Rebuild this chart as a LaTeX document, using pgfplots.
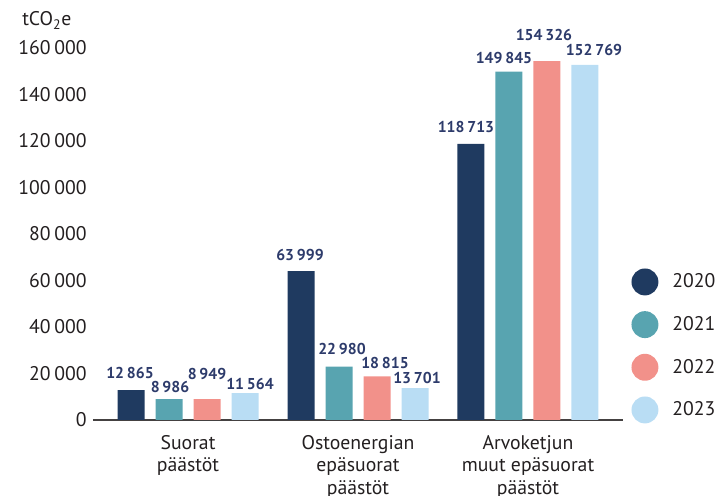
\documentclass[border=0pt]{standalone}
\usepackage{pgfplots}
\pgfplotsset{compat=1.18}
\usepackage{fontspec}
\setmainfont{PT Sans}

\definecolor{c2020}{HTML}{1F3A60}
\definecolor{c2021}{HTML}{58A4B0}
\definecolor{c2022}{HTML}{F2918A}
\definecolor{c2023}{HTML}{B9DDF4}
\definecolor{labnavy}{HTML}{2D3B6B}
\definecolor{txt}{HTML}{231F20}

\pgfplotsset{
    vlabels/.style={
        nodes near coords={\pgfmathprintnumber[fixed,precision=0,1000 sep={\hspace{0.18em}},assume math mode=true]{\pgfplotspointmeta}},
        visualization depends on={value \thisrow{dx} \as \labdx},
        visualization depends on={value \thisrow{dy} \as \labdy},
        nodes near coords style={anchor=center, inner sep=0pt,
            xshift={\labdx*0.75pt}, yshift={\labdy*0.75pt},
            font=\fontsize{11.8}{14}\selectfont\bfseries, text=labnavy},
    },
}

\begin{document}
\begin{tikzpicture}
\useasboundingbox (-69.75pt,-57pt) rectangle (466.5pt,315pt);
\begin{axis}[
    scale only axis,
    width=397.5pt, height=279pt,
    xmin=-0.559, xmax=2.559,
    ymin=0, ymax=160000,
    ybar, bar width=20.25pt,
    axis lines*=left,
    y axis line style={draw=none},
    x axis line style={draw=txt!85, line width=0.9pt},
    major tick length=0pt,
    clip=false,
    xtick={0,1,2},
    xticklabels={{Suorat\\päästöt},{Ostoenergian\\epäsuorat\\päästöt},{Arvoketjun\\muut epäsuorat\\päästöt}},
    x tick label style={align=center, anchor=north, inner sep=0pt, yshift=-11.25pt,
        font=\fontsize{14.8}{16.9}\selectfont, text=txt},
    ytick={0,20000,...,160000},
    scaled y ticks=false,
    y tick label style={anchor=east, inner sep=0pt, xshift=-4.5pt,
        font=\fontsize{14.8}{16.9}\selectfont, text=txt,
        /pgf/number format/.cd, fixed, precision=0, 1000 sep={\hspace{0.2em}}, assume math mode=true},
    legend image code/.code={\fill[#1] (0pt,0pt) circle (10.1pt);},
    legend cell align=left,
    legend style={draw=none, fill=none, at={(rel axis cs:1.016,0.4073)}, anchor=north west,
        inner sep=0pt, outer sep=0pt, row sep=11.8pt,
        font=\fontsize{14.8}{16.9}\selectfont, text=txt,
        nodes={inner sep=0pt},
        /tikz/every odd column/.append style={column sep=10.4pt}},
]
% x = group, y = value, dx/dy = label offset (px) from bar top centre
\addplot[fill=c2020, draw=none, bar shift=-42.75pt, forget plot, vlabels] table[x=x,y=y] {
x y dx dy
0 12865 -1 17
1 63999 -1 16
2 118713 -5 17
};
\addplot[fill=c2021, draw=none, bar shift=-14.25pt, forget plot, vlabels] table[x=x,y=y] {
x y dx dy
0 8986 1 12
1 22980 3 18
2 149845 -5 14
};
\addplot[fill=c2022, draw=none, bar shift=14.25pt, forget plot, vlabels] table[x=x,y=y] {
x y dx dy
0 8949 0 25
1 18815 8 13
2 154326 -3 26
};
\addplot[fill=c2023, draw=none, bar shift=42.75pt, forget plot, vlabels] table[x=x,y=y] {
x y dx dy
0 11564 5 9
1 13701 2 10
2 152769 9 15
};
\addlegendimage{fill=c2020, draw=none}
\addlegendentry{2020}
\addlegendimage{fill=c2021, draw=none}
\addlegendentry{2021}
\addlegendimage{fill=c2022, draw=none}
\addlegendentry{2022}
\addlegendimage{fill=c2023, draw=none}
\addlegendentry{2023}
\node[anchor=base west, inner sep=0pt, font=\fontsize{14.8}{16.9}\selectfont, text=txt]
    at ([xshift=-53.25pt, yshift=16.5pt]rel axis cs:0,1) {tCO\textsubscript{2}e};
\end{axis}
\end{tikzpicture}
\end{document}
